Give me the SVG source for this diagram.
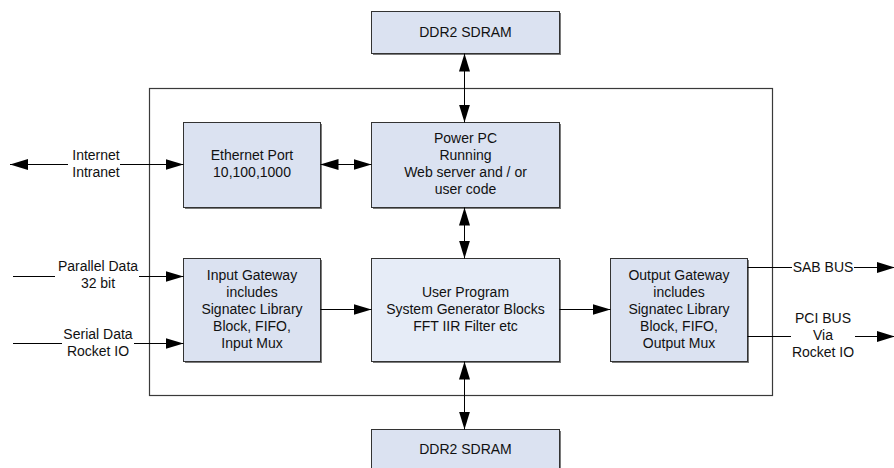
<svg xmlns="http://www.w3.org/2000/svg" width="894" height="468" viewBox="0 0 894 468">
  <defs>
    <marker id="arrow" viewBox="0 0 18 11" refX="18" refY="5.5" markerWidth="18" markerHeight="11" markerUnits="userSpaceOnUse" orient="auto-start-reverse">
      <path d="M0,0 L18,5.5 L0,11 Z" fill="#000"/>
    </marker>
  </defs>
  <style>
    .box { stroke: #333; stroke-width: 1; fill: #dbe2f1; }
    .box.light { fill: #e6ecf7; }
    .shadow { fill: #7a7a7a; }
    .frame { fill: none; stroke: #3a3a3a; stroke-width: 1.2; }
    .wire { fill: none; stroke: #000; stroke-width: 1; }
    .arr { marker-end: url(#arrow); }
    .dbl { marker-start: url(#arrow); marker-end: url(#arrow); }
    text { font-family: "Liberation Sans", Arial, sans-serif; font-size: 14px; fill: #111; text-anchor: middle; }
  </style>

  <rect width="894" height="468" fill="#fff"/>

  <!-- FPGA boundary -->
  <rect id="fpga-frame" class="frame" x="149.5" y="88.5" width="623" height="307"/>

  <g id="ddr-top">
    <rect class="shadow" x="373" y="13" width="188" height="42"/>
    <rect class="box" x="371.5" y="11.5" width="188" height="42"/>
    <text x="465.5" y="37">DDR2 SDRAM</text>
  </g>

  <g id="ethernet">
    <rect class="shadow" x="185" y="124" width="137" height="85"/>
    <rect class="box" x="183.5" y="122.5" width="137" height="85"/>
    <text x="252" y="160">Ethernet Port</text>
    <text x="252" y="177">10,100,1000</text>
  </g>

  <g id="powerpc">
    <rect class="shadow" x="373" y="124" width="188" height="85"/>
    <rect class="box" x="371.5" y="122.5" width="188" height="85"/>
    <text x="465.5" y="143">Power PC</text>
    <text x="465.5" y="160">Running</text>
    <text x="465.5" y="177">Web server and / or</text>
    <text x="465.5" y="194">user code</text>
  </g>

  <g id="input-gateway">
    <rect class="shadow" x="185" y="260" width="137" height="103"/>
    <rect class="box" x="183.5" y="258.5" width="137" height="103"/>
    <text x="252" y="280">Input Gateway</text>
    <text x="252" y="297">includes</text>
    <text x="252" y="314">Signatec Library</text>
    <text x="252" y="331">Block, FIFO,</text>
    <text x="252" y="348">Input Mux</text>
  </g>

  <g id="user-program">
    <rect class="shadow" x="373" y="260" width="188" height="103"/>
    <rect class="box light" x="371.5" y="258.5" width="188" height="103"/>
    <text x="465.5" y="297">User Program</text>
    <text x="465.5" y="314">System Generator Blocks</text>
    <text x="465.5" y="331">FFT IIR Filter etc</text>
  </g>

  <g id="output-gateway">
    <rect class="shadow" x="612" y="260" width="137" height="103"/>
    <rect class="box" x="610.5" y="258.5" width="137" height="103"/>
    <text x="679" y="280">Output Gateway</text>
    <text x="679" y="297">includes</text>
    <text x="679" y="314">Signatec Library</text>
    <text x="679" y="331">Block, FIFO,</text>
    <text x="679" y="348">Output Mux</text>
  </g>

  <g id="ddr-bottom">
    <rect class="shadow" x="373" y="431" width="188" height="50"/>
    <rect class="box" x="371.5" y="429.5" width="188" height="50"/>
    <text x="465.5" y="454">DDR2 SDRAM</text>
  </g>

  <g id="connectors">
    <!-- memory and processor buses -->
    <line class="wire dbl" x1="464.5" y1="53.5" x2="464.5" y2="122.5"/>
    <line class="wire dbl" x1="464.5" y1="207.5" x2="464.5" y2="258.5"/>
    <line class="wire dbl" x1="464.5" y1="361.5" x2="464.5" y2="429.5"/>
    <line class="wire dbl" x1="320.5" y1="164.5" x2="371.5" y2="164.5"/>

    <!-- data path -->
    <line class="wire arr" x1="320.5" y1="309.5" x2="371.5" y2="309.5"/>
    <line class="wire arr" x1="559.5" y1="309.5" x2="610.5" y2="309.5"/>

    <!-- network link -->
    <line class="wire arr" x1="68" y1="164.5" x2="10" y2="164.5"/>
    <line class="wire arr" x1="120" y1="164.5" x2="183.5" y2="164.5"/>
    <text x="96" y="160">Internet</text>
    <text x="96" y="177">Intranet</text>

    <!-- inputs -->
    <line class="wire" x1="13" y1="276.5" x2="55" y2="276.5"/>
    <line class="wire arr" x1="139" y1="276.5" x2="183.5" y2="276.5"/>
    <text x="98" y="271">Parallel Data</text>
    <text x="98" y="288">32 bit</text>

    <line class="wire" x1="13" y1="343.5" x2="62" y2="343.5"/>
    <line class="wire arr" x1="134" y1="343.5" x2="183.5" y2="343.5"/>
    <text x="98" y="339">Serial Data</text>
    <text x="98" y="356">Rocket IO</text>

    <!-- outputs -->
    <line class="wire" x1="747.5" y1="267.5" x2="792" y2="267.5"/>
    <line class="wire arr" x1="854" y1="267.5" x2="895" y2="267.5"/>
    <text x="823" y="272">SAB BUS</text>

    <line class="wire" x1="747.5" y1="336.5" x2="791" y2="336.5"/>
    <line class="wire arr" x1="855" y1="336.5" x2="895" y2="336.5"/>
    <text x="823" y="323">PCI BUS</text>
    <text x="823" y="340">Via</text>
    <text x="823" y="357">Rocket IO</text>
  </g>
</svg>
